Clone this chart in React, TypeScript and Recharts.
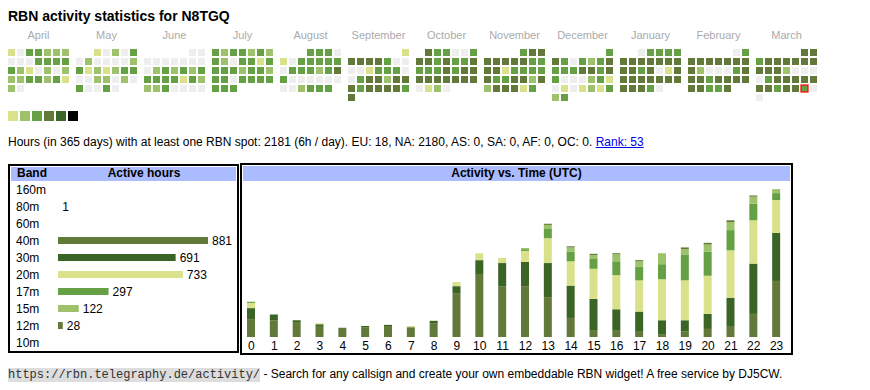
import React from 'react';
import { BarChart, Bar, XAxis, YAxis, ScatterChart, Scatter, LabelList, Cell } from 'recharts';

// ---------- Heatmap data (daily activity level, 0 = none) ----------
const MONTH_NAMES = ['April', 'May', 'June', 'July', 'August', 'September', 'October', 'November', 'December', 'January', 'February', 'March'];
const START_YEAR = 2024;
const START_MONTH = 3; // April
const TODAY_MONTH = 11;
const TODAY_INDEX = 28; // March 29

const APR = [1,0,3,3,2,2,2, 0,0,0,3,3,3,3, 3,2,1,0,2,0,2, 2,2,3,3,2,3,1, 2,0];
const MAY = [1,0,2,0,3, 0,2,0,0,0,0,2, 3,1,2,1,2,3,3, 0,0,2,2,0,2,0, 3,0,0,3,0];
const JUN = [0,0, 0,0,0,0,0,0,0, 0,2,3,2,3,2,3, 3,3,3,3,1,3,2, 2,2,3,0,0,0,0];
const JUL = [3,2,3,3,2,3,2, 3,2,0,3,3,1,3, 3,3,3,2,3,3,2, 3,3,0,3,3,3,3, 3,3,3];
const AUG = [3,3,3,0, 1,0,3,3,3,3,3, 0,3,3,3,2,3,4, 3,0,0,0,0,0,0, 0,0,2,3,3,3];
const SEP = [1, 4,4,4,4,3,0,0, 0,0,1,3,3,3,0, 0,3,4,4,2,4,4, 4,3,4,4,4,4,3, 4];
const OCT = [4,3,3,0,0,3, 4,4,3,4,3,3,4, 3,3,3,4,3,4,4, 4,4,4,4,4,4,4, 0,1,2,0];
const NOV = [3,4,4, 4,4,4,4,4,3,3, 4,4,1,3,3,3,3, 4,3,3,4,4,2,4, 2,4,4,4,1,3];
const DEC = [3, 4,3,0,3,2,3,4, 3,3,3,4,4,3,4, 3,0,0,0,2,3,1, 0,1,0,1,2,1,3, 2,3];
const JAN = [0,3,3,3,3, 4,4,4,4,4,4,4, 4,4,3,4,0,1,4, 4,4,4,4,4,4,4, 4,4,4,3,0];
const FEB = [0,3, 4,4,4,4,4,4,4, 4,2,0,0,0,3,4, 4,4,3,4,4,4,4, 4,4,3,3,4];
const MAR = [4,4, 3,4,4,4,4,4,4, 4,4,4,2,0,0,0, 0,3,4,4,4,4,4, 4,4,3,4,4,3,0, 0];
const MONTH_LEVELS = [APR, MAY, JUN, JUL, AUG, SEP, OCT, NOV, DEC, JAN, FEB, MAR];

// ---------- Band table ----------
const BANDS = ['160m', '80m', '60m', '40m', '30m', '20m', '17m', '15m', '12m', '10m'];
const BAND_HOURS = [0, 1, 0, 881, 691, 733, 297, 122, 28, 0];

// ---------- Activity vs time (UTC) ----------
const HOURS = ['0','1','2','3','4','5','6','7','8','9','10','11','12','13','14','15','16','17','18','19','20','21','22','23'];
const H40 = [31,29,26,19,16,17,19,17,23,76,109,88,88,69,33,12,12,9,5,10,14,19,40,97];
const H30 = [19,10,3,3,0,2,2,0,5,12,24,40,42,59,56,54,36,35,24,19,26,49,87,83];
const H20 = [9,0,0,2,0,0,0,2,0,7,12,9,19,43,42,52,59,54,71,69,66,82,75,57];
const H17 = [2,0,0,0,0,0,0,0,0,0,0,0,3,16,17,17,24,24,26,45,42,35,29,12];
const H15 = [0,0,0,0,0,0,0,0,0,0,0,0,2,7,7,7,12,9,19,9,12,14,12,7];
const H12 = [0,0,0,0,0,0,0,0,0,0,0,0,0,2,2,2,2,2,0,3,3,3,2,0];

// ---------- Styles ----------
const FONT = '"Liberation Sans", Arial, Helvetica, sans-serif';
const LEVEL_COLORS = ['#eeeeee', '#d9e28a', '#9dc26b', '#65a044', '#637939', '#3a6526', '#000000'];
const BAND_COLORS: Record<string, string> = {
  '160m': '#c0c0c0', '80m': '#eeeeee', '60m': '#c0c0c0', '40m': '#637939', '30m': '#3a6526',
  '20m': '#d9e28a', '17m': '#65a044', '15m': '#9dc26b', '12m': '#637939', '10m': '#c0c0c0',
};
const HEADER_BG = '#aabbff';
const CELL = 7;
const CELL_PITCH = 9;
const MONTH_PITCH = 68;

// derived tables
const heatCells = MONTH_LEVELS.flatMap((levels, m) => {
  const first = new Date(START_YEAR, START_MONTH + m, 1);
  const offset = (first.getDay() + 6) % 7;
  return levels.map((level, d) => {
    const slot = offset + d;
    return {
      x: m * MONTH_PITCH + (slot % 7) * CELL_PITCH + CELL / 2,
      y: Math.floor(slot / 7) * CELL_PITCH + CELL / 2,
      level,
      today: m === TODAY_MONTH && d === TODAY_INDEX,
    };
  });
});
const monthTicks = MONTH_NAMES.map((_, m) => m * MONTH_PITCH + (7 * CELL_PITCH - 2) / 2);

const bandData = BANDS.map((band, i) => ({ band, hours: BAND_HOURS[i] }));
const hourData = HOURS.map((hour, i) => ({
  hour, b40: H40[i], b30: H30[i], b20: H20[i], b17: H17[i], b15: H15[i], b12: H12[i],
}));
const STACK = [
  { key: 'b40', color: BAND_COLORS['40m'] },
  { key: 'b30', color: BAND_COLORS['30m'] },
  { key: 'b20', color: BAND_COLORS['20m'] },
  { key: 'b17', color: BAND_COLORS['17m'] },
  { key: 'b15', color: BAND_COLORS['15m'] },
  { key: 'b12', color: BAND_COLORS['12m'] },
];

const HeatCell = (p: any) => {
  const { cx, cy, payload } = p;
  return (
    <rect
      x={cx - CELL / 2}
      y={cy - CELL / 2}
      width={CELL}
      height={CELL}
      fill={LEVEL_COLORS[payload.level]}
      stroke={payload.today ? '#ff0000' : 'none'}
      strokeWidth={payload.today ? 1.2 : 0}
    />
  );
};

const BandTick = (p: any) => (
  <text x={6} y={p.y} dy={4.3} fontSize={12} fill="#000" textAnchor="start" fontFamily={FONT}>
    {p.payload.value}
  </text>
);

export default function App() {
  return (
    <div style={{ position: 'relative', width: 854, height: 374, fontFamily: FONT, color: '#000' }}>
      <div style={{ position: 'absolute', left: 0, top: 0, fontSize: 14, fontWeight: 'bold', lineHeight: '16px', whiteSpace: 'nowrap' }}>
        RBN activity statistics for N8TGQ
      </div>

      <div style={{ position: 'absolute', left: 0, top: 17 }}>
        <ScatterChart width={828} height={78} margin={{ top: 0, right: 0, bottom: 0, left: 0 }}>
          <XAxis
            type="number"
            dataKey="x"
            orientation="top"
            domain={[0, 828]}
            allowDataOverflow
            ticks={monthTicks}
            interval={0}
            height={24}
            axisLine={false}
            tickLine={false}
            tickSize={0}
            tickMargin={10}
            tick={{ fontSize: 11, fill: '#aaaaaa' }}
            tickFormatter={(v: number) => MONTH_NAMES[Math.round((v - monthTicks[0]) / MONTH_PITCH)]}
          />
          <YAxis type="number" dataKey="y" domain={[0, 54]} reversed hide allowDataOverflow />
          <Scatter data={heatCells} shape={HeatCell} isAnimationActive={false} />
        </ScatterChart>
      </div>

      <div style={{ position: 'absolute', left: 0, top: 103, display: 'flex', gap: 2 }}>
        {LEVEL_COLORS.slice(1).map((c) => (
          <div key={c} style={{ width: 10, height: 10, background: c }} />
        ))}
      </div>

      <div style={{ position: 'absolute', left: 0, top: 127, fontSize: 12, lineHeight: '14px', whiteSpace: 'nowrap' }}>
        Hours (in 365 days) with at least one RBN spot: 2181 (6h / day). EU: 18, NA: 2180, AS: 0, SA: 0, AF: 0, OC: 0.{' '}
        <a href="https://rbn.telegraphy.de/activity/" style={{ color: '#0000ee', textDecoration: 'underline' }}>Rank: 53</a>
      </div>

      {/* Band table box */}
      <div style={{ position: 'absolute', left: 0, top: 156, width: 231, height: 189, border: '2px solid #000', boxSizing: 'border-box' }}>
        <div style={{ position: 'absolute', left: 1, top: 1, width: 225, height: 14, background: HEADER_BG, fontSize: 12, fontWeight: 'bold', lineHeight: '12px' }}>
          <span style={{ position: 'absolute', left: 6, top: 0 }}>Band</span>
          <span style={{ position: 'absolute', left: 41, width: 184, top: 0, textAlign: 'center' }}>Active hours</span>
        </div>
      </div>
      <div style={{ position: 'absolute', left: 2, top: 173 }}>
        <BarChart layout="vertical" width={226} height={170} data={bandData} margin={{ top: 0, right: 28, bottom: 0, left: 0 }}>
          <XAxis type="number" domain={[0, 881]} hide />
          <YAxis type="category" dataKey="band" width={48} axisLine={false} tickLine={false} tick={BandTick} interval={0} />
          <Bar dataKey="hours" barSize={7} isAnimationActive={false}>
            {bandData.map((d) => (
              <Cell key={d.band} fill={BAND_COLORS[d.band]} />
            ))}
            <LabelList
              dataKey="hours"
              position="right"
              offset={4}
              fontSize={12}
              fill="#000"
              formatter={(v: any) => (Number(v) > 0 ? v : '')}
            />
          </Bar>
        </BarChart>
      </div>

      {/* Activity vs time box */}
      <div style={{ position: 'absolute', left: 232, top: 155, width: 553, height: 192, border: '2px solid #000', boxSizing: 'border-box' }}>
        <div style={{ position: 'absolute', left: 1, top: 1, width: 547, height: 15, background: HEADER_BG, fontSize: 12, fontWeight: 'bold', lineHeight: '14px', textAlign: 'center' }}>
          Activity vs. Time (UTC)
        </div>
      </div>
      <div style={{ position: 'absolute', left: 232, top: 173 }}>
        <BarChart width={552} height={186} data={hourData} margin={{ top: 0, right: 4, bottom: 0, left: 0 }}>
          <XAxis
            dataKey="hour"
            axisLine={false}
            tickLine={false}
            tickSize={0}
            tickMargin={4.5}
            interval={0}
            height={30}
            tick={{ fontSize: 12, fill: '#000' }}
          />
          <YAxis domain={[0, 270]} hide allowDataOverflow />
          {STACK.map((s) => (
            <Bar key={s.key} dataKey={s.key} stackId="a" fill={s.color} barSize={8} isAnimationActive={false} />
          ))}
        </BarChart>
      </div>

      <div style={{ position: 'absolute', left: 0, top: 359, fontSize: 12, lineHeight: '14px', whiteSpace: 'nowrap' }}>
        <span style={{ fontFamily: '"Liberation Mono", "DejaVu Sans Mono", monospace', fontSize: 12, background: '#dddddd', color: '#333' }}>
          https://rbn.telegraphy.de/activity/
        </span>
        {' '}- Search for any callsign and create your own embeddable RBN widget! A free service by DJ5CW.
      </div>
    </div>
  );
}
